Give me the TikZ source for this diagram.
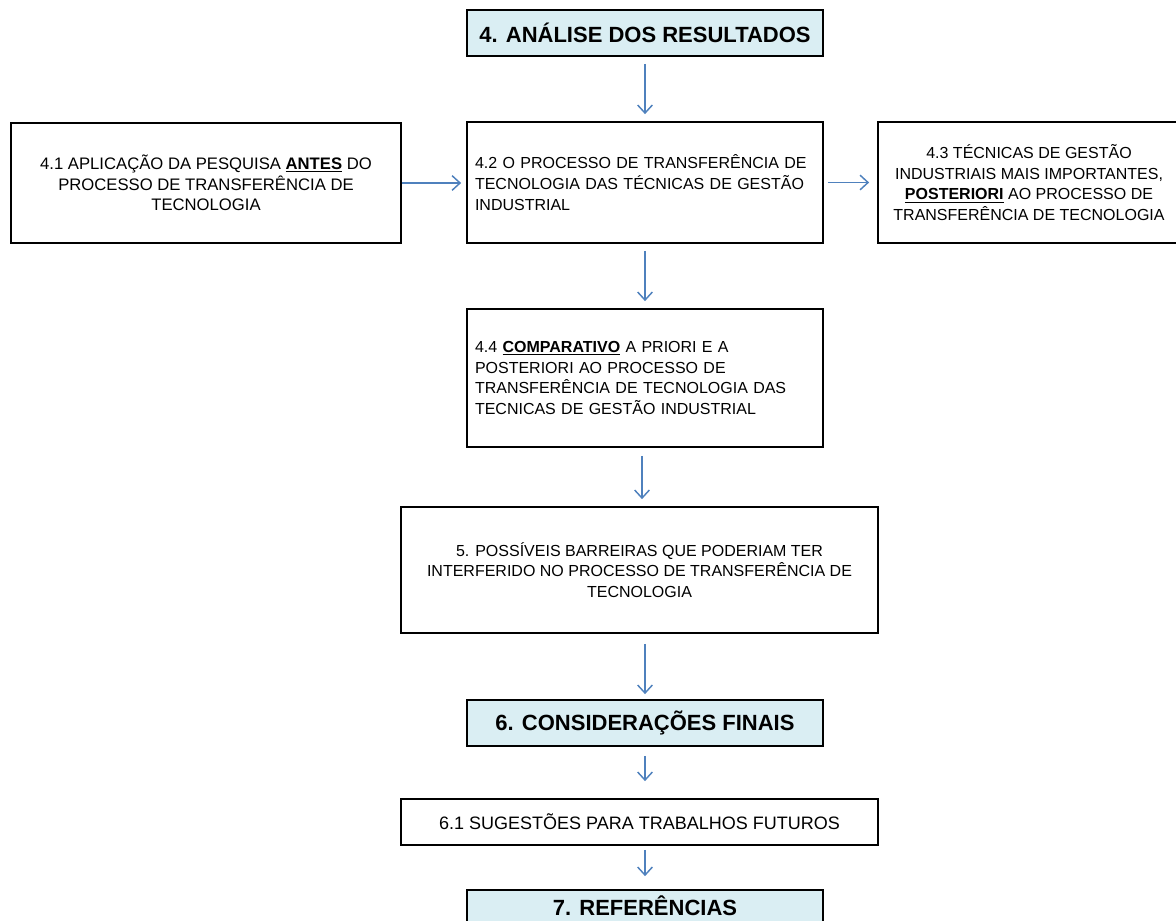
\documentclass[tikz,border=0pt]{standalone}
\usepackage{fontspec}
\setmainfont{Liberation Sans}
\usetikzlibrary{arrows.meta}
\definecolor{boxblue}{HTML}{DAEEF3}
\definecolor{arrowblue}{HTML}{4F81BD}
\begin{document}
\begin{tikzpicture}[x=0.75pt,y=-0.75pt,
  box/.style={draw=black, line width=1.3pt, inner sep=0pt, align=center,
    font=\fontsize{12}{15.5}\selectfont},
  leftbox/.style={box, inner xsep=6pt, text width=255pt, align=left},
  head/.style={box, fill=boxblue, minimum width=267pt, minimum height=34.5pt,
    font=\bfseries\fontsize{16.5}{19}\selectfont},
  conn/.style={draw=arrowblue, line width=1.1pt, -{Straight Barb[length=6pt,width=11pt]}}]
\useasboundingbox (0,0) rectangle (1176,920);

\node[head] (b1) at (645,33) {4. ANÁLISE DOS RESULTADOS};

\node[box, minimum width=292.5pt, minimum height=90pt, font=\fontsize{12.5}{15.5}\selectfont] (b41) at (206,183)
  {4.1 APLICAÇÃO DA PESQUISA \textbf{\underline{ANTES}} DO\\PROCESSO DE TRANSFERÊNCIA DE\\TECNOLOGIA};

\node[leftbox, minimum width=267pt, minimum height=90.75pt] (b42) at (645,182.5)
  {4.2 O PROCESSO DE TRANSFERÊNCIA DE\\TECNOLOGIA DAS TÉCNICAS DE GESTÃO\\INDUSTRIAL};

\node[box, minimum width=226.5pt, minimum height=90.75pt] (b43) at (1029,182.5)
  {4.3 TÉCNICAS DE GESTÃO\\INDUSTRIAIS MAIS IMPORTANTES,\\\textbf{\underline{POSTERIORI}} AO PROCESSO DE\\TRANSFERÊNCIA DE TECNOLOGIA};

\node[leftbox, minimum width=267pt, minimum height=103.5pt] (b44) at (645,378)
  {4.4 \textbf{\underline{COMPARATIVO}} A PRIORI E A\\POSTERIORI AO PROCESSO DE\\TRANSFERÊNCIA DE TECNOLOGIA DAS\\TECNICAS DE GESTÃO INDUSTRIAL};

\node[box, minimum width=357.75pt, minimum height=94.5pt] (b5) at (639.5,570)
  {5. POSSÍVEIS BARREIRAS QUE PODERIAM TER\\INTERFERIDO NO PROCESSO DE TRANSFERÊNCIA DE\\TECNOLOGIA};

\node[head] (b6) at (645,723) {6. CONSIDERAÇÕES FINAIS};

\node[box, minimum width=357.75pt, minimum height=34.5pt, font=\fontsize{13.5}{16}\selectfont] (b61) at (639.5,822)
  {6.1 SUGESTÕES PARA TRABALHOS FUTUROS};

\node[head, minimum height=24pt] (b7) at (645,906) {7. REFERÊNCIAS};

\draw[conn, shorten <=5.25pt, shorten >=5.25pt] (b1.south) -- (b42.north);
\draw[conn, shorten >=3.75pt] (b41.east) -- (b41.east -| b42.west);
\draw[conn, shorten <=3pt, shorten >=6pt] (b42.east) -- (b42.east -| b43.west);
\draw[conn, shorten <=5.25pt, shorten >=5.25pt] (b42.south) -- (b44.north);
\draw[conn, shorten <=6pt, shorten >=5.25pt] ([xshift=-2.25pt]b44.south) -- ([xshift=-2.25pt]b44.south |- b5.north);
\draw[conn, shorten <=7.5pt, shorten >=3.75pt] (b6.north |- b5.south) -- (b6.north);
\draw[conn, shorten <=6.75pt, shorten >=12.75pt] (b6.south) -- (b6.south |- b61.north);
\draw[conn, shorten <=3pt, shorten >=9.75pt] (b7.north |- b61.south) -- (b7.north);
\end{tikzpicture}
\end{document}
